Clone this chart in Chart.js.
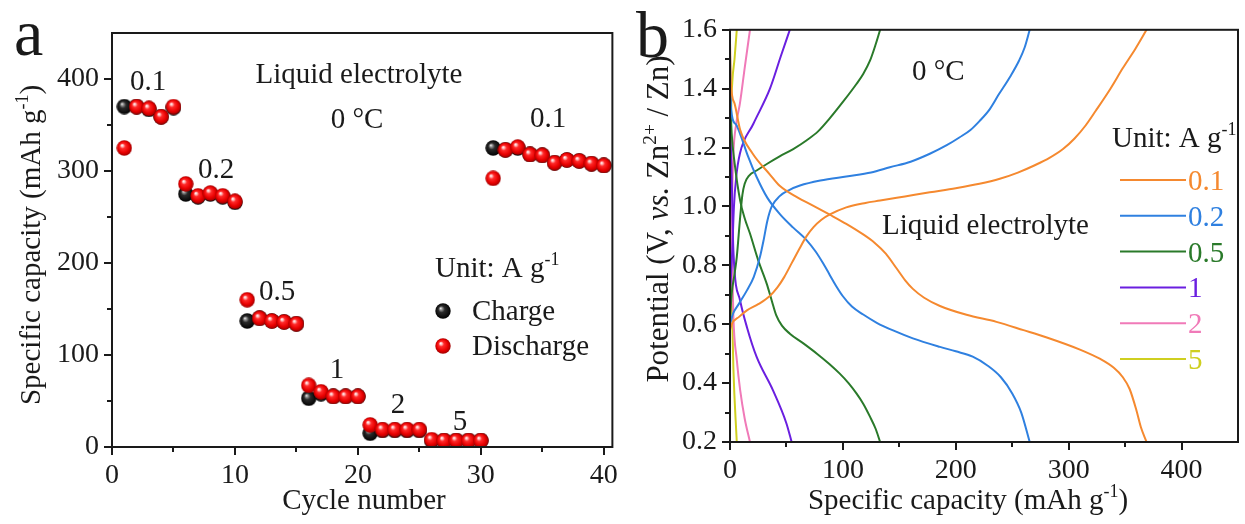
<!DOCTYPE html>
<html>
<head>
<meta charset="utf-8">
<script src="https://cdn.jsdelivr.net/npm/chart.js@4/dist/chart.umd.min.js"></script>
<style>
  html, body { margin: 0; padding: 0; background: #fff; }
  #wrap { position: relative; width: 1245px; height: 524px; overflow: hidden; }
  canvas { position: absolute; top: 0; }
  #ca { left: 0; }
  #cb { left: 630px; }
</style>
</head>
<body>
<div id="wrap">
  <canvas id="ca" width="630" height="524"></canvas>
  <canvas id="cb" width="615" height="524"></canvas>
</div>
<script>
// ---------------- Panel a data ----------------
const cycles = [1,2,3,4,5,6,7,8,9,10,11,12,13,14,15,16,17,18,19,20,21,22,23,24,25,26,27,28,29,30,31,32,33,34,35,36,37,38,39,40];
const chargeCap = [370,370,367,359,369,275,272,275,272,266,137,140,137,136,134,53,58,55,55,55,15,18,18,18,18,7,7,7,7,7,325,323,325,318,317,309,312,311,308,306];
const dischargeCap = [325,370,368,359,370,286,273,276,273,267,160,140,137,136,134,67,60,55,55,55,24,19,19,19,19,8,7,7,7,7,292,323,326,318,317,309,312,311,308,306];
const xTicksA = [0,10,20,30,40];
const yTicksA = [0,100,200,300,400];

// ---------------- Panel b data ----------------
const rateLabels = ['0.1','0.2','0.5','1','2','5'];
const rateColors = ['#F5892F','#2F80E0','#2A7A2A','#6A1FE0','#F07AB8','#CFCF20'];
const charge01 = [[0,0.58],[1.5,0.6],[8,0.625],[15,0.647],[25,0.668],[35,0.695],[42,0.725],[48,0.76],[55,0.81],[62,0.86],[68,0.9],[74,0.93],[81,0.955],[88.5,0.973],[103,0.997],[120,1.012],[133,1.02],[155,1.034],[177,1.048],[200,1.062],[221,1.077],[239,1.094],[255,1.115],[270,1.14],[283,1.165],[295,1.195],[305,1.23],[315,1.275],[324,1.325],[337,1.4],[348,1.47],[359,1.535],[369,1.6]];
const discharge01 = [[0,1.56],[0.8,1.42],[4,1.35],[9,1.26],[20,1.18],[35,1.11],[44,1.07],[60,1.03],[73.5,1.003],[88,0.973],[103,0.941],[118,0.905],[128,0.877],[138,0.84],[147.5,0.79],[155,0.75],[162,0.72],[172,0.69],[186,0.662],[209.5,0.632],[236,0.608],[260,0.58],[280,0.556],[310,0.514],[328,0.482],[340,0.452],[348,0.42],[354,0.38],[360,0.308],[364,0.25],[369,0.2]];
const charge02 = [[0,0.6],[2.7,0.636],[8,0.67],[15,0.715],[21,0.76],[26.5,0.828],[30,0.89],[33,0.95],[37,1.0],[44,1.035],[52,1.055],[62,1.071],[80,1.088],[103,1.102],[125,1.115],[141.6,1.133],[160,1.152],[177,1.179],[192,1.208],[203.5,1.235],[213,1.26],[221,1.29],[230,1.33],[238,1.38],[248,1.44],[256,1.495],[261,1.54],[265.5,1.6]];
const discharge02 = [[0,1.52],[1,1.33],[5,1.28],[9,1.246],[16,1.17],[23.6,1.1],[33,1.03],[44,0.975],[56,0.928],[68,0.885],[76,0.846],[82.6,0.806],[88,0.77],[94,0.73],[100,0.695],[108,0.66],[118,0.633],[130,0.605],[145,0.578],[162,0.552],[186,0.523],[200,0.508],[215,0.49],[228,0.46],[240,0.42],[250,0.365],[258,0.3],[265.5,0.2]];
const charge05 = [[0,0.62],[1.5,0.704],[4,0.77],[6,0.828],[9,0.964],[11,1.04],[13,1.077],[17,1.105],[23.6,1.122],[33,1.145],[44,1.17],[56,1.195],[68,1.225],[78,1.255],[88.5,1.3],[100,1.355],[112,1.416],[118,1.45],[124,1.495],[129,1.55],[133,1.6]];
const discharge05 = [[0,1.38],[1.5,1.247],[4,1.15],[9,1.02],[13,0.96],[17.7,0.908],[25,0.817],[32.5,0.738],[37,0.68],[41,0.63],[46,0.595],[53,0.568],[65,0.535],[77,0.5],[88,0.465],[97,0.433],[105,0.4],[112,0.365],[118,0.33],[124,0.286],[129,0.245],[133,0.2]];
const charge1 = [[0,0.7],[2,0.85],[3.5,1.0],[5.5,1.1],[8.8,1.18],[20.6,1.28],[35.4,1.40],[45,1.51],[53,1.6]];
const discharge1 = [[0,1.3],[1.5,1.1],[3,0.85],[9,0.68],[15,0.59],[23.6,0.489],[38,0.376],[50,0.263],[54.6,0.2]];
const charge2 = [[0,0.65],[1,0.85],[2,1.05],[3,1.18],[5.5,1.28],[8.8,1.35],[13,1.47],[17.7,1.6]];
const discharge2 = [[0,1.25],[1,1.0],[2,0.8],[3,0.625],[6,0.48],[9,0.376],[13,0.28],[17.7,0.2]];
const charge5 = [[0,0.7],[0.5,1.0],[1,1.3],[2,1.42],[4,1.5],[6,1.6]];
const discharge5 = [[0,1.35],[0.5,1.0],[1.5,0.7],[3,0.45],[6,0.2]];
const xTicksB = [0,100,200,300,400];
const yTicksB = [0.2,0.4,0.6,0.8,1.0,1.2,1.4,1.6];

// ---------------- helpers ----------------
const FAM = '"Liberation Serif", "Times New Roman", serif';
const TXT = '#1a1a1a';

function makeSphere(stops, d) {
  const c = document.createElement('canvas');
  c.width = d; c.height = d;
  const g = c.getContext('2d');
  const r = d / 2;
  const grd = g.createRadialGradient(r - r*0.3, r - r*0.35, r*0.02, r, r, r);
  stops.forEach(s => grd.addColorStop(s[0], s[1]));
  g.fillStyle = grd;
  g.beginPath(); g.arc(r, r, r - 0.3, 0, Math.PI*2); g.fill();
  return c;
}
const redBall = makeSphere([[0,'#ffffff'],[0.14,'#ffb8b8'],[0.32,'#ff2a2a'],[0.7,'#e80000'],[1,'#9a0000']], 16);
const blackBall = makeSphere([[0,'#f0f0f0'],[0.16,'#909090'],[0.4,'#2a2a2a'],[1,'#000000']], 16);

function richWidth(ctx, segs, size) {
  let w = 0;
  segs.forEach(s => {
    const fs = s.sup ? size*0.62 : size;
    ctx.font = (s.it ? 'italic ' : '') + fs + 'px ' + FAM;
    w += ctx.measureText(s.t).width;
  });
  return w;
}
function drawRich(ctx, segs, x, y, size, align, color) {
  const w = richWidth(ctx, segs, size);
  let cx = align === 'center' ? x - w/2 : (align === 'right' ? x - w : x);
  ctx.fillStyle = color || TXT;
  ctx.textBaseline = 'alphabetic';
  ctx.textAlign = 'left';
  segs.forEach(s => {
    const fs = s.sup ? size*0.62 : size;
    ctx.font = (s.it ? 'italic ' : '') + fs + 'px ' + FAM;
    ctx.fillText(s.t, cx, s.sup ? y - size*0.4 : y);
    cx += ctx.measureText(s.t).width;
  });
}
function drawFrameAndTicks(chart, xMinor, yMinor, xMajor, yMajor) {
  const ctx = chart.ctx, a = chart.chartArea;
  const xs = chart.scales.x, ys = chart.scales.y;
  ctx.save();
  ctx.strokeStyle = '#1a1a1a';
  ctx.lineWidth = 2;
  ctx.strokeRect(a.left, a.top, a.right - a.left, a.bottom - a.top);
  ctx.beginPath();
  xMajor.forEach(v => { const p = Math.round(xs.getPixelForValue(v)); ctx.moveTo(p, a.bottom); ctx.lineTo(p, a.bottom + 8); });
  xMinor.forEach(v => { const p = Math.round(xs.getPixelForValue(v)); ctx.moveTo(p, a.bottom); ctx.lineTo(p, a.bottom + 5); });
  yMajor.forEach(v => { const p = Math.round(ys.getPixelForValue(v)); ctx.moveTo(a.left, p); ctx.lineTo(a.left - 8, p); });
  yMinor.forEach(v => { const p = Math.round(ys.getPixelForValue(v)); ctx.moveTo(a.left, p); ctx.lineTo(a.left - 5, p); });
  ctx.stroke();
  ctx.restore();
}
function plainText(ctx, t, x, y, size, align, color) {
  ctx.font = size + 'px ' + FAM;
  ctx.fillStyle = color || TXT;
  ctx.textAlign = align || 'center';
  ctx.textBaseline = 'alphabetic';
  ctx.fillText(t, x, y);
}

// ---------------- Panel a ----------------
const decorA = {
  id: 'decorA',
  afterDraw(chart) {
    const ctx = chart.ctx;
    drawFrameAndTicks(chart, [5,15,25,35], [50,150,250,350], xTicksA, yTicksA);
    ctx.save();
    plainText(ctx, 'a', 14, 55, 66, 'left');
    plainText(ctx, 'Cycle number', 364, 509, 29, 'center');
    ctx.save();
    ctx.translate(40, 245);
    ctx.rotate(-Math.PI/2);
    drawRich(ctx, [{t:'Specific capacity (mAh g'},{t:'-1',sup:true},{t:')'}], 0, 0, 29, 'center');
    ctx.restore();
    plainText(ctx, 'Liquid electrolyte', 359, 83, 29, 'center');
    plainText(ctx, '0 \u00B0C', 357, 128, 29, 'center');
    plainText(ctx, '0.1', 148, 90, 29, 'center');
    plainText(ctx, '0.2', 216, 178, 29, 'center');
    plainText(ctx, '0.5', 277, 300, 29, 'center');
    plainText(ctx, '1', 337, 378, 29, 'center');
    plainText(ctx, '2', 398, 413, 29, 'center');
    plainText(ctx, '5', 460, 430, 29, 'center');
    plainText(ctx, '0.1', 548, 127, 29, 'center');
    drawRich(ctx, [{t:'Unit: A g'},{t:'-1',sup:true}], 435, 277, 29, 'left');
    ctx.drawImage(blackBall, 443 - 8, 311 - 8);
    ctx.drawImage(redBall, 443 - 8, 346 - 8);
    plainText(ctx, 'Charge', 472, 320, 29, 'left');
    plainText(ctx, 'Discharge', 472, 355, 29, 'left');
    ctx.restore();
  }
};

new Chart(document.getElementById('ca'), {
  type: 'scatter',
  data: {
    datasets: [
      { label: 'Charge', order: 1, data: cycles.map((c,i) => ({x:c, y:chargeCap[i]})), pointStyle: blackBall, pointRadius: 8, showLine: false },
      { label: 'Discharge', order: 0, data: cycles.map((c,i) => ({x:c, y:dischargeCap[i]})), pointStyle: redBall, pointRadius: 8, showLine: false }
    ]
  },
  options: {
    responsive: false, animation: false, devicePixelRatio: 1,
    layout: { padding: { left: 0, right: 13, top: 33, bottom: 0 } },
    plugins: { legend: { display: false }, tooltip: { enabled: false } },
    scales: {
      x: {
        type: 'linear', min: 0, max: 40.7,
        grid: { display: false, drawTicks: false }, border: { display: false },
        ticks: { stepSize: 10, includeBounds: false, padding: 12, color: TXT, font: { family: FAM, size: 28 }, maxRotation: 0,
                 callback: v => xTicksA.includes(v) ? String(v) : '' },
        afterFit: s => { s.height = 77; }
      },
      y: {
        type: 'linear', min: 0, max: 450,
        grid: { display: false, drawTicks: false }, border: { display: false },
        ticks: { stepSize: 100, includeBounds: false, padding: 13, color: TXT, font: { family: FAM, size: 28 },
                 callback: v => yTicksA.includes(v) ? String(v) : '' },
        afterFit: s => { s.width = 112; }
      }
    }
  },
  plugins: [decorA]
});

// ---------------- Panel b ----------------
const curvesB = [
  [charge01, discharge01], [charge02, discharge02], [charge05, discharge05],
  [charge1, discharge1], [charge2, discharge2], [charge5, discharge5]
];
const datasetsB = [];
curvesB.forEach((pair, i) => {
  pair.forEach((arr, k) => {
    datasetsB.push({
      label: rateLabels[i] + (k ? ' discharge' : ' charge'),
      data: arr.map(p => ({x: p[0], y: p[1]})),
      borderColor: rateColors[i], borderWidth: 2, pointRadius: 0,
      showLine: true, fill: false, cubicInterpolationMode: 'monotone'
    });
  });
});

const decorB = {
  id: 'decorB',
  afterDraw(chart) {
    const ctx = chart.ctx;
    drawFrameAndTicks(chart, [50,150,250,350], [0.3,0.5,0.7,0.9,1.1,1.3,1.5], xTicksB, yTicksB);
    ctx.save();
    plainText(ctx, 'b', 6, 57, 66, 'left');
    drawRich(ctx, [{t:'Specific capacity (mAh g'},{t:'-1',sup:true},{t:')'}], 338, 509, 29, 'center');
    ctx.save();
    ctx.translate(38, 219);
    ctx.rotate(-Math.PI/2);
    drawRich(ctx, [{t:'Potential (V, '},{t:'vs.',it:true},{t:' Zn'},{t:'2+',sup:true},{t:' / Zn)'}], 0, 0, 31, 'center');
    ctx.restore();
    plainText(ctx, '0 \u00B0C', 282, 80, 29, 'left');
    plainText(ctx, 'Liquid electrolyte', 252, 234, 29, 'left');
    drawRich(ctx, [{t:'Unit: A g'},{t:'-1',sup:true}], 482, 147, 29, 'left');
    rateLabels.forEach((lab, i) => {
      const y = 180 + i * 35.8;
      ctx.strokeStyle = rateColors[i];
      ctx.lineWidth = 2;
      ctx.beginPath(); ctx.moveTo(490, y); ctx.lineTo(556, y); ctx.stroke();
      plainText(ctx, lab, 558, y + 10, 29, 'left', rateColors[i]);
    });
    ctx.restore();
  }
};

new Chart(document.getElementById('cb'), {
  type: 'scatter',
  data: { datasets: datasetsB },
  options: {
    responsive: false, animation: false, devicePixelRatio: 1,
    layout: { padding: { left: 0, right: 7, top: 29, bottom: 0 } },
    plugins: { legend: { display: false }, tooltip: { enabled: false } },
    scales: {
      x: {
        type: 'linear', min: 0, max: 450,
        grid: { display: false, drawTicks: false }, border: { display: false },
        ticks: { stepSize: 100, includeBounds: false, padding: 12, color: TXT, font: { family: FAM, size: 28 }, maxRotation: 0,
                 callback: v => xTicksB.includes(v) ? String(v) : '' },
        afterFit: s => { s.height = 82; }
      },
      y: {
        type: 'linear', min: 0.2, max: 1.6,
        grid: { display: false, drawTicks: false }, border: { display: false },
        ticks: { stepSize: 0.2, includeBounds: false, padding: 13, color: TXT, font: { family: FAM, size: 28 },
                 callback: v => v.toFixed(1) },
        afterFit: s => { s.width = 100; }
      }
    }
  },
  plugins: [decorB]
});
</script>
</body>
</html>
